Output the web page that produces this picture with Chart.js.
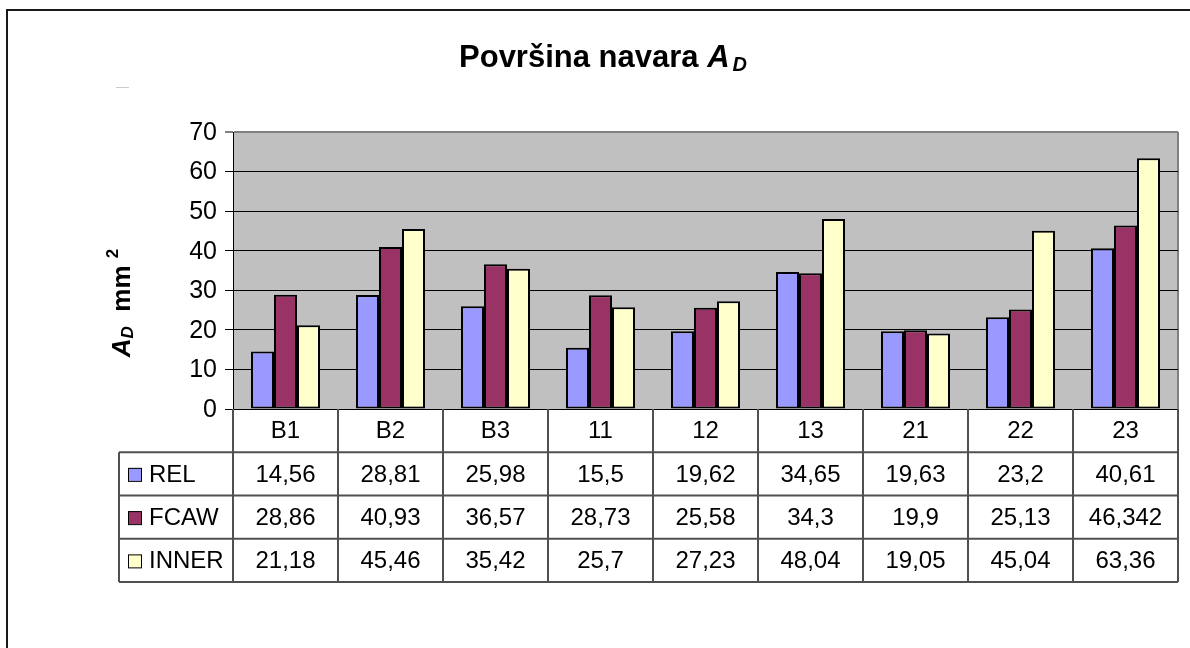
<!DOCTYPE html>
<html>
<head>
<meta charset="utf-8">
<title>Površina navara</title>
<script src="https://cdn.jsdelivr.net/npm/chart.js@4"></script>
<style>
  html, body { margin: 0; padding: 0; background: #ffffff; }
  canvas { display: block; }
</style>
</head>
<body>
<canvas id="chart" width="1190" height="648"></canvas>
<script>
// Weld bead cross-section area per specimen, three welding processes
const categories = ['B1', 'B2', 'B3', '11', '12', '13', '21', '22', '23'];
const relValues = [14.56, 28.81, 25.98, 15.5, 19.62, 34.65, 19.63, 23.2, 40.61];
const fcawValues = [28.86, 40.93, 36.57, 28.73, 25.58, 34.3, 19.9, 25.13, 46.342];
const innerValues = [21.18, 45.46, 35.42, 25.7, 27.23, 48.04, 19.05, 45.04, 63.36];
const seriesNames = ['REL', 'FCAW', 'INNER'];
const seriesColors = ['#9999FF', '#993366', '#FFFFCC'];
const yTicks = [0, 10, 20, 30, 40, 50, 60, 70];

const FONT = '"Liberation Sans", Arial, Helvetica, sans-serif';
const fmt = v => String(v).replace('.', ',');

// Gray plot background and frame
const plotFrame = {
  id: 'plotFrame',
  beforeDraw(chart) {
    const { ctx, chartArea: a } = chart;
    ctx.save();
    ctx.fillStyle = '#ffffff';
    ctx.fillRect(0, 0, chart.width, chart.height);
    ctx.fillStyle = '#C0C0C0';
    ctx.fillRect(a.left, a.top, a.right - a.left, a.bottom - a.top);
    ctx.strokeStyle = '#808080';
    ctx.lineWidth = 2;
    ctx.beginPath();
    ctx.moveTo(a.right, a.top);
    ctx.lineTo(a.right, a.bottom);
    ctx.stroke();
    ctx.restore();
  }
};

// Title, axis texts, outer border and the data table under the plot
const decorations = {
  id: 'decorations',
  afterDraw(chart) {
    const { ctx, chartArea: a } = chart;
    const xs = chart.scales.x;
    const ys = chart.scales.y;
    ctx.save();

    // outer chart border (top and left)
    ctx.strokeStyle = '#1a1a1a';
    ctx.lineWidth = 2;
    ctx.beginPath();
    ctx.moveTo(7, 660);
    ctx.lineTo(7, 10);
    ctx.lineTo(1200, 10);
    ctx.stroke();

    // small gray mark
    ctx.strokeStyle = '#cccccc';
    ctx.lineWidth = 1;
    ctx.beginPath();
    ctx.moveTo(116, 87.5);
    ctx.lineTo(129, 87.5);
    ctx.stroke();

    // y tick labels
    ctx.fillStyle = '#000000';
    ctx.font = '25px ' + FONT;
    ctx.textAlign = 'right';
    ctx.textBaseline = 'middle';
    yTicks.forEach(v => {
      ctx.fillText(String(v), a.left - 16, ys.getPixelForValue(v) + 1);
    });

    // title
    ctx.textBaseline = 'alphabetic';
    ctx.textAlign = 'left';
    const t1 = 'Površina navara ';
    const fMain = 'bold 31px ' + FONT;
    const fA = 'italic bold 31px ' + FONT;
    const fD = 'italic bold 20px ' + FONT;
    ctx.font = fMain; const w1 = ctx.measureText(t1).width;
    ctx.font = fA; const w2 = ctx.measureText('A').width;
    ctx.font = fD; const w3 = ctx.measureText('D').width;
    let tx = 603 - (w1 + w2 + 3 + w3) / 2;
    const ty = 67;
    ctx.font = fMain; ctx.fillText(t1, tx, ty); tx += w1;
    ctx.font = fA; ctx.fillText('A', tx, ty); tx += w2 + 3;
    ctx.font = fD; ctx.fillText('D', tx, ty + 4);

    // rotated axis title
    ctx.save();
    ctx.translate(121, 303);
    ctx.rotate(-Math.PI / 2);
    const parts = [
      { t: 'A', f: 'italic bold 26px ' + FONT, dy: 0 },
      { t: 'D', f: 'italic bold 17px ' + FONT, dy: 3 },
      { t: '  mm ', f: 'bold 26px ' + FONT, dy: 0 },
      { t: '2', f: 'bold 17px ' + FONT, dy: -12 }
    ];
    let total = 0;
    parts.forEach(p => { ctx.font = p.f; p.w = ctx.measureText(p.t).width; total += p.w; });
    let px = -total / 2;
    parts.forEach(p => { ctx.font = p.f; ctx.fillText(p.t, px, 9 + p.dy); px += p.w; });
    ctx.restore();

    // data table
    const n = categories.length;
    const colW = (a.right - a.left) / n;
    const top = a.bottom;
    const rowH = 43.25;
    const legendLeft = 119;
    const rows = [relValues, fcawValues, innerValues];
    const bottom = top + rowH * 4;

    ctx.strokeStyle = '#505050';
    ctx.lineWidth = 2;
    for (let i = 0; i <= n; i++) {
      const x = a.left + i * colW;
      ctx.beginPath();
      ctx.moveTo(x, top);
      ctx.lineTo(x, bottom);
      ctx.stroke();
    }
    ctx.beginPath();
    ctx.moveTo(legendLeft, top + rowH);
    ctx.lineTo(legendLeft, bottom);
    ctx.stroke();
    for (let r = 1; r <= 4; r++) {
      const y = top + r * rowH;
      ctx.beginPath();
      ctx.moveTo(legendLeft, y);
      ctx.lineTo(a.right, y);
      ctx.stroke();
    }

    ctx.fillStyle = '#000000';
    ctx.font = '24px ' + FONT;
    ctx.textBaseline = 'middle';
    ctx.textAlign = 'center';
    categories.forEach((c, i) => {
      ctx.fillText(c, xs.getPixelForValue(i), top + rowH / 2 + 1);
    });
    rows.forEach((vals, r) => {
      const cy = top + rowH * (r + 1.5) + 1;
      vals.forEach((v, i) => {
        ctx.fillText(fmt(v), xs.getPixelForValue(i), cy);
      });
    });

    // legend keys and series names
    ctx.textAlign = 'left';
    seriesNames.forEach((name, r) => {
      const cy = top + rowH * (r + 1.5);
      ctx.fillStyle = seriesColors[r];
      ctx.fillRect(128, cy - 6, 13, 13);
      ctx.strokeStyle = '#000000';
      ctx.lineWidth = 1;
      ctx.strokeRect(128.5, cy - 5.5, 13, 13);
      ctx.fillStyle = '#000000';
      ctx.fillText(name, 149, cy + 1);
    });

    ctx.restore();
  }
};

const datasets = [relValues, fcawValues, innerValues].map((vals, i) => ({
  label: seriesNames[i],
  data: vals,
  backgroundColor: seriesColors[i],
  borderColor: '#000000',
  borderWidth: 2,
  borderSkipped: false,
  barPercentage: 1,
  categoryPercentage: 69 / 105
}));

new Chart(document.getElementById('chart'), {
  type: 'bar',
  data: { labels: categories, datasets },
  options: {
    responsive: false,
    animation: false,
    devicePixelRatio: 1,
    layout: { padding: { left: 233, right: 12, top: 132, bottom: 239 } },
    plugins: { legend: { display: false }, title: { display: false }, tooltip: { enabled: false } },
    scales: {
      x: { display: false },
      y: {
        min: 0,
        max: 70,
        afterFit(s) { s.width = 0; },
        afterBuildTicks(s) { s.ticks = yTicks.map(v => ({ value: v })); },
        ticks: { display: false },
        grid: {
          color: ctx => (ctx.tick && ctx.tick.value === 70 ? '#808080' : '#000000'),
          lineWidth: ctx => (ctx.tick && ctx.tick.value === 70 ? 2 : 1),
          tickLength: 8,
          tickColor: '#000000',
          tickWidth: 1
        },
        border: { color: '#000000', width: 1 }
      }
    }
  },
  plugins: [plotFrame, decorations]
});
</script>
</body>
</html>
